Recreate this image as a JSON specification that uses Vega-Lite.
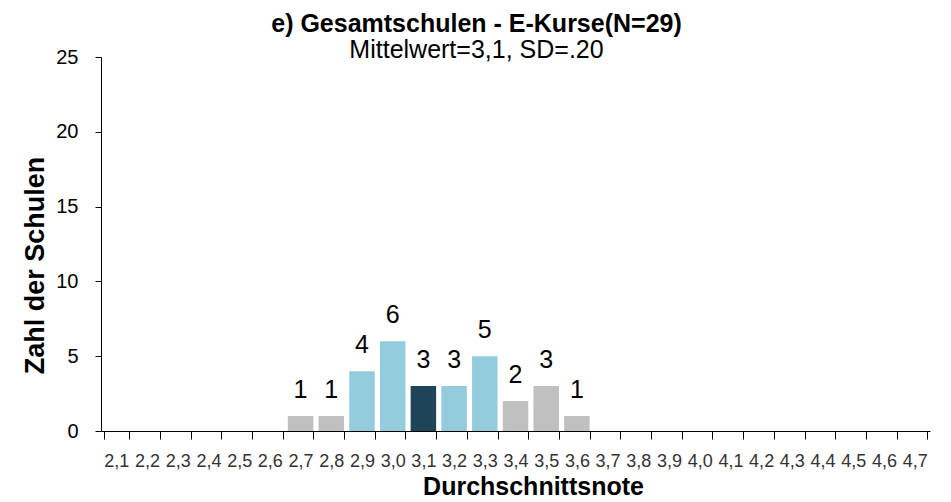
{
  "$schema": "https://vega.github.io/schema/vega-lite/v6.json",
  "autosize": "none",
  "width": 829,
  "height": 374,
  "padding": {"left": 101, "top": 57, "right": 21, "bottom": 71},
  "background": "white",
  "config": {
    "view": {"stroke": null},
    "font": "Liberation Sans"
  },
  "title": {
    "text": "e) Gesamtschulen - E-Kurse(N=29)",
    "subtitle": "Mittelwert=3,1, SD=.20",
    "anchor": "middle",
    "frame": "group",
    "dx": -39,
    "fontSize": 25,
    "fontWeight": "bold",
    "font": "Liberation Sans",
    "color": "#000000",
    "subtitleFontSize": 25,
    "subtitleFont": "Liberation Sans",
    "subtitleColor": "#000000",
    "subtitlePadding": 1,
    "offset": -16
  },
  "data": {
    "values": [
      {"note": "2,1", "anzahl": 0, "gruppe": "aussen"},
      {"note": "2,2", "anzahl": 0, "gruppe": "aussen"},
      {"note": "2,3", "anzahl": 0, "gruppe": "aussen"},
      {"note": "2,4", "anzahl": 0, "gruppe": "aussen"},
      {"note": "2,5", "anzahl": 0, "gruppe": "aussen"},
      {"note": "2,6", "anzahl": 0, "gruppe": "aussen"},
      {"note": "2,7", "anzahl": 1, "gruppe": "aussen"},
      {"note": "2,8", "anzahl": 1, "gruppe": "aussen"},
      {"note": "2,9", "anzahl": 4, "gruppe": "sd"},
      {"note": "3,0", "anzahl": 6, "gruppe": "sd"},
      {"note": "3,1", "anzahl": 3, "gruppe": "mittel"},
      {"note": "3,2", "anzahl": 3, "gruppe": "sd"},
      {"note": "3,3", "anzahl": 5, "gruppe": "sd"},
      {"note": "3,4", "anzahl": 2, "gruppe": "aussen"},
      {"note": "3,5", "anzahl": 3, "gruppe": "aussen"},
      {"note": "3,6", "anzahl": 1, "gruppe": "aussen"},
      {"note": "3,7", "anzahl": 0, "gruppe": "aussen"},
      {"note": "3,8", "anzahl": 0, "gruppe": "aussen"},
      {"note": "3,9", "anzahl": 0, "gruppe": "aussen"},
      {"note": "4,0", "anzahl": 0, "gruppe": "aussen"},
      {"note": "4,1", "anzahl": 0, "gruppe": "aussen"},
      {"note": "4,2", "anzahl": 0, "gruppe": "aussen"},
      {"note": "4,3", "anzahl": 0, "gruppe": "aussen"},
      {"note": "4,4", "anzahl": 0, "gruppe": "aussen"},
      {"note": "4,5", "anzahl": 0, "gruppe": "aussen"},
      {"note": "4,6", "anzahl": 0, "gruppe": "aussen"},
      {"note": "4,7", "anzahl": 0, "gruppe": "aussen"}
    ]
  },
  "encoding": {
    "x": {
      "field": "note",
      "type": "nominal",
      "sort": null,
      "scale": {"paddingInner": 0.17, "paddingOuter": 0.085},
      "axis": {
        "title": "Durchschnittsnote",
        "titleFontSize": 25,
        "titleFontWeight": "bold",
        "titleColor": "#000000",
        "titleX": 432,
        "titleY": 55,
        "titleBaseline": "middle",
        "labelAngle": 0,
        "labelFontSize": 18,
        "labelColor": "#333333",
        "labelPadding": 13,
        "labelOverlap": false,
        "tickBand": "extent",
        "tickSize": 8,
        "tickColor": "#000000",
        "domainColor": "#000000",
        "grid": false
      }
    },
    "y": {
      "field": "anzahl",
      "type": "quantitative",
      "scale": {"domain": [0, 25]},
      "axis": {
        "title": "Zahl der Schulen",
        "titleFontSize": 27,
        "titleFontWeight": "bold",
        "titleColor": "#000000",
        "titleX": -66,
        "titleY": 208,
        "titleAngle": -90,
        "titleAlign": "center",
        "titleBaseline": "middle",
        "values": [0, 5, 10, 15, 20, 25],
        "labelFontSize": 20,
        "labelColor": "#000000",
        "labelPadding": 17,
        "tickSize": 6,
        "tickColor": "#000000",
        "domainColor": "#000000",
        "grid": false
      }
    }
  },
  "layer": [
    {
      "mark": {"type": "bar"},
      "encoding": {
        "color": {
          "field": "gruppe",
          "type": "nominal",
          "scale": {"domain": ["aussen", "sd", "mittel"], "range": ["#C0C0C0", "#93CDDD", "#1F4357"]},
          "legend": null
        }
      }
    },
    {
      "transform": [{"filter": "datum.anzahl > 0"}],
      "mark": {"type": "text", "baseline": "alphabetic", "dy": -18, "fontSize": 25, "color": "#000000"},
      "encoding": {
        "text": {"field": "anzahl", "type": "quantitative"}
      }
    }
  ]
}
